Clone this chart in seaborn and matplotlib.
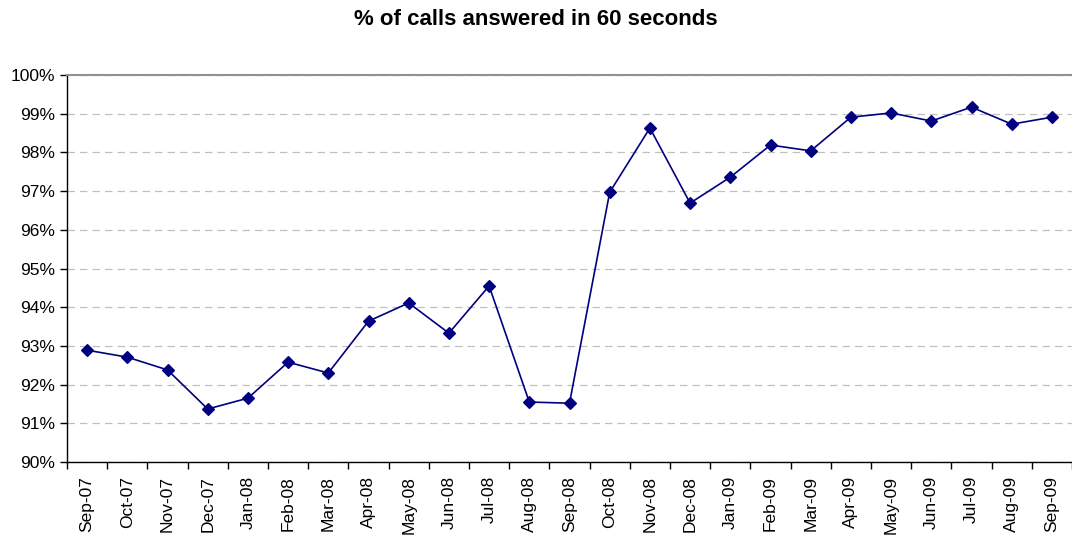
import seaborn as sns
import matplotlib.pyplot as plt
from matplotlib.ticker import PercentFormatter, FixedLocator
import numpy as np

months = ['Sep-07', 'Oct-07', 'Nov-07', 'Dec-07', 'Jan-08', 'Feb-08', 'Mar-08',
          'Apr-08', 'May-08', 'Jun-08', 'Jul-08', 'Aug-08', 'Sep-08', 'Oct-08',
          'Nov-08', 'Dec-08', 'Jan-09', 'Feb-09', 'Mar-09', 'Apr-09', 'May-09',
          'Jun-09', 'Jul-09', 'Aug-09', 'Sep-09']
pct_answered = [92.89, 92.71, 92.38, 91.37, 91.65, 92.58, 92.30, 93.64, 94.11,
                93.33, 94.55, 91.55, 91.52, 96.97, 98.63, 96.69, 97.36, 98.19,
                98.04, 98.91, 99.02, 98.81, 99.17, 98.73, 98.91]

sns.set_style('white')
plt.rcParams['font.family'] = ['Liberation Sans', 'DejaVu Sans']
plt.rcParams['text.color'] = 'black'
plt.rcParams['xtick.color'] = 'black'
plt.rcParams['ytick.color'] = 'black'

fig = plt.figure(figsize=(10.72, 5.35), dpi=100)
ax = fig.add_axes([0.0625, 0.1364, 0.9375, 0.7234])

sns.pointplot(x=months, y=pct_answered, ax=ax, color='#000080', markers='D',
              markersize=6, linewidth=1.2)

ax.set_ylim(90, 100)
ax.set_yticks(np.arange(90, 101, 1))
ax.yaxis.set_major_formatter(PercentFormatter(decimals=0))
ax.set_xlim(-0.5, len(months) - 0.5)
ax.yaxis.grid(True, color='#c0c0c0', linestyle=(0, (6, 4)), linewidth=0.9)
ax.set_axisbelow(True)

# category boundary ticks on the x axis
ax.xaxis.set_minor_locator(FixedLocator(np.arange(-0.5, len(months), 1)))
ax.tick_params(axis='x', which='major', length=0, labelrotation=90, labelsize=12.5, pad=10)
ax.tick_params(axis='x', which='minor', length=5, width=1, color='black', direction='out', bottom=True)
ax.tick_params(axis='y', length=5, width=1, color='black', direction='out', left=True, labelsize=12.5)

for side in ['left', 'bottom']:
    ax.spines[side].set_color('black')
    ax.spines[side].set_linewidth(1)
ax.spines['right'].set_visible(False)
ax.spines['top'].set_color('#909090')
ax.spines['top'].set_linewidth(1.5)

ax.set_xlabel('')
ax.set_ylabel('')
fig.suptitle('% of calls answered in 60 seconds', fontsize=16, fontweight='bold',
             y=0.964, va='center')

fig.savefig('out.png', dpi=100)
